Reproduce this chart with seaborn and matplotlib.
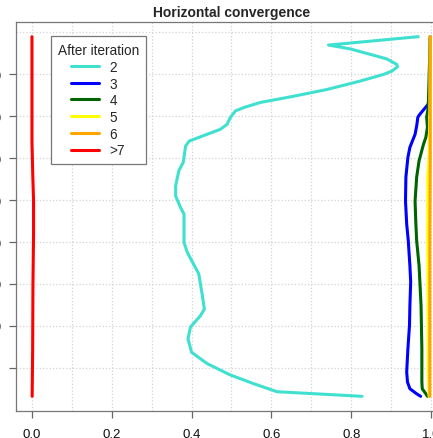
import matplotlib
matplotlib.use("Agg")
import matplotlib.pyplot as plt
import numpy as np
import pandas as pd
import seaborn as sns

# Vertical profiles of the horizontal convergence measure after each iteration
levels_it2 = [890, 870, 861, 848, 837, 824, 818, 808, 800, 784, 764, 748, 733,
              721, 713, 697, 681, 669, 641, 629, 590, 570, 534, 510, 483, 467,
              399, 376, 324, 272, 240, 224, 197, 169, 137, 110, 83, 62, 43, 32]
conv_it2 = [0.968, 0.743, 0.797, 0.847, 0.889, 0.914, 0.916, 0.902, 0.881,
            0.822, 0.739, 0.656, 0.572, 0.531, 0.510, 0.497, 0.489, 0.472,
            0.394, 0.385, 0.379, 0.368, 0.360, 0.360, 0.372, 0.381, 0.381,
            0.389, 0.418, 0.427, 0.432, 0.422, 0.397, 0.391, 0.400, 0.439,
            0.497, 0.556, 0.614, 0.827]

levels_it3 = [890, 752, 729, 705, 698, 677, 657, 626, 602, 555, 498, 443, 403,
              344, 305, 248, 201, 145, 90, 66, 50, 38, 32]
conv_it3 = [0.998, 0.996, 0.993, 0.972, 0.967, 0.964, 0.960, 0.947, 0.942,
            0.937, 0.936, 0.939, 0.943, 0.947, 0.949, 0.947, 0.946, 0.942,
            0.939, 0.941, 0.947, 0.964, 0.974]

levels_it4 = [890, 721, 698, 674, 650, 633, 594, 555, 498, 443, 403, 344, 248,
              145, 66, 50, 38, 32]
conv_it4 = [0.998, 0.993, 0.989, 0.991, 0.987, 0.981, 0.970, 0.964, 0.960,
            0.962, 0.964, 0.970, 0.975, 0.977, 0.977, 0.978, 0.987, 0.991]

levels_it5 = [890, 700, 600, 555, 400, 200, 100, 32]
conv_it5 = [0.998, 0.997, 0.995, 0.992, 0.992, 0.993, 0.993, 0.995]

levels_it6 = [890, 600, 400, 200, 32]
conv_it6 = [0.998, 0.998, 0.997, 0.997, 0.997]

levels_it7 = [890, 640, 560, 500, 420, 300, 140, 32]
conv_it7 = [0.000, 0.000, 0.002, 0.004, 0.004, 0.0025, 0.0017, 0.0005]

iteration_labels = ["2", "3", "4", "5", "6", ">7"]
line_colors = ["#40E0D0", "#0000FF", "#006400", "#FFFF00", "#FFA500", "#FF0000"]

x_ticks = [0.0, 0.2, 0.4, 0.6, 0.8, 1.0]
x_tick_labels = ["0.0", "0.2", "0.4", "0.6", "0.8", "1.0"]
y_ticks = [100, 200, 300, 400, 500, 600, 700, 800]
y_tick_labels = ["100", "200", "300", "400", "500", "600", "700", "800"]

profiles = [
    (levels_it2, conv_it2), (levels_it3, conv_it3), (levels_it4, conv_it4),
    (levels_it5, conv_it5), (levels_it6, conv_it6), (levels_it7, conv_it7),
]
frames = []
for lab, (lev, conv) in zip(iteration_labels, profiles):
    frames.append(pd.DataFrame({"level": lev, "convergence": conv, "iteration": lab}))
df = pd.concat(frames, ignore_index=True)

sns.set_style("white")
plt.rcParams["font.family"] = ["Liberation Sans", "DejaVu Sans"]
plt.rcParams["lines.solid_joinstyle"] = "round"
plt.rcParams["lines.solid_capstyle"] = "round"

fig = plt.figure(figsize=(4.33, 4.39), dpi=100)
W, H = 433, 439
ax_left, ax_right, ax_top, ax_bottom = 16, 447, 23.3, 411.7
ax = fig.add_axes([ax_left / W, 1 - ax_bottom / H,
                   (ax_right - ax_left) / W, (ax_bottom - ax_top) / H])

sns.lineplot(data=df, x="convergence", y="level", hue="iteration",
             hue_order=iteration_labels,
             palette=dict(zip(iteration_labels, line_colors)),
             sort=False, estimator=None, linewidth=2.2, legend=False, ax=ax)

ymin, ymax = min(min(p[0]) for p in profiles), max(max(p[0]) for p in profiles)
span = ymax - ymin
ax.set_xlim(-0.04, 1.04)
ax.set_ylim(ymin - 0.04 * span, ymax + 0.04 * span)

ax.set_xticks(x_ticks)
ax.set_xticklabels(x_tick_labels)
ax.set_xticks([0.1, 0.3, 0.5, 0.7, 0.9], minor=True)
ax.set_yticks(y_ticks)
ax.set_yticklabels(y_tick_labels)
ax.set_yticks([900], minor=True)

ax.grid(True, which="both", color="#d3d3d3", linestyle=":", linewidth=0.9)
ax.set_axisbelow(True)

ax.tick_params(axis="both", which="major", length=5.3, width=0.9,
               color="#666666", labelsize=9.5, labelcolor="#111111",
               left=True, bottom=True)
ax.tick_params(axis="x", which="major", pad=7)
ax.tick_params(axis="y", which="major", pad=5)
ax.tick_params(axis="both", which="minor", length=0)

for side in ["left", "bottom", "top", "right"]:
    ax.spines[side].set_visible(True)
    ax.spines[side].set_color("#777777")
    ax.spines[side].set_linewidth(0.9)

ax.set_xlabel("")
ax.set_ylabel("")
ax.set_title("Horizontal convergence", fontsize=10, fontweight="bold", pad=4.8)

leg = ax.legend(ax.lines[:len(iteration_labels)], iteration_labels,
                title="After iteration", loc="upper left",
                bbox_to_anchor=(0.0805, 0.964), borderaxespad=0,
                fontsize=9.8, title_fontsize=9.8, frameon=True, fancybox=False,
                edgecolor="#777777", framealpha=1, handlelength=2.0,
                handletextpad=0.8, labelspacing=0.2, borderpad=0.5)
leg.get_frame().set_linewidth(0.9)

fig.savefig("out.png", dpi=100)
